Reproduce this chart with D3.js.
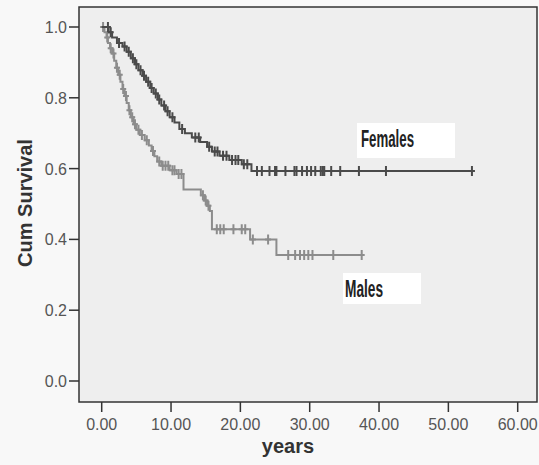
<!DOCTYPE html>
<html>
<head>
	<meta charset="UTF-8">
	<title>Cum Survival</title>
	<script src="https://cdn.jsdelivr.net/npm/d3@7"></script>
	<style>
		body { margin: 0; background: #f8f8f8; }
		svg { display: block; }
		.tick-label { font-family: "Liberation Sans", Arial, sans-serif; font-size: 16px; fill: #555; }
		.axis-title { font-family: "Liberation Sans", Arial, sans-serif; font-size: 20px; font-weight: bold; fill: #333; }
		.group-label { font-family: "Liberation Sans Narrow", "Liberation Sans", Arial, sans-serif; font-size: 23px; font-weight: bold; fill: #222; }
	</style>
</head>
<body>
<script>
// Kaplan-Meier curves
var femaleStepTimes = [1.0, 1.5, 2.2, 3.0, 3.6, 4.2, 4.8, 5.3, 5.9, 6.4, 7.0, 7.5, 8.1, 8.6, 9.2, 9.8, 10.5, 11.2, 12.0, 13.0, 14.2, 15.2, 15.9, 17.0, 18.4, 20.2, 21.6];
var femaleStepSurv  = [0.985, 0.970, 0.955, 0.945, 0.930, 0.912, 0.895, 0.878, 0.862, 0.845, 0.828, 0.812, 0.795, 0.778, 0.762, 0.745, 0.730, 0.712, 0.700, 0.688, 0.675, 0.662, 0.648, 0.636, 0.624, 0.612, 0.593];
var femaleCensor = [0.9, 1.3, 2.5, 3.3, 3.9, 4.5, 5.0, 5.6, 6.1, 6.7, 7.2, 7.8, 8.3, 9.0, 9.5, 10.2, 11.6, 13.5, 14.0, 15.5, 16.3, 16.7, 17.5, 18.0, 18.8, 19.3, 19.7, 20.5, 21.0,
	22.4, 23.1, 24.2, 25.0, 25.2, 26.5, 27.8, 28.1, 28.9, 29.6, 30.2, 30.8, 31.6, 31.9, 32.1, 33.1, 34.4, 37.1, 41.0, 53.4];

var maleStepTimes = [0.4, 0.7, 0.9, 1.2, 1.5, 1.8, 2.1, 2.4, 2.7, 3.0, 3.3, 3.6, 3.9, 4.2, 4.6, 5.0, 5.5, 6.2, 6.8, 7.2, 7.6, 8.0, 8.6, 9.8, 10.8, 11.8, 14.3, 14.8, 15.2, 15.6, 15.9, 21.4, 25.2];
var maleStepSurv  = [0.985, 0.970, 0.955, 0.940, 0.925, 0.905, 0.885, 0.865, 0.845, 0.825, 0.805, 0.785, 0.765, 0.745, 0.725, 0.710, 0.695, 0.680, 0.665, 0.650, 0.635, 0.620, 0.608, 0.595, 0.585, 0.541, 0.525, 0.510, 0.495, 0.480, 0.429, 0.400, 0.356];
var maleCensor = [0.2, 0.8, 1.3, 1.7, 2.2, 2.6, 3.1, 3.5, 4.0, 4.4, 4.8, 5.3, 5.8, 6.5, 7.4, 8.3, 8.8, 9.2, 9.6, 10.2, 10.5, 11.1, 11.5, 14.6, 15.0, 15.4,
	16.6, 17.1, 17.6, 19.0, 20.2, 20.7, 21.8, 24.0, 26.9, 27.9, 28.6, 29.2, 29.8, 30.4, 33.4, 37.5];

var xTicks = [0, 10, 20, 30, 40, 50, 60];
var yTicks = [0, 0.2, 0.4, 0.6, 0.8, 1.0];

var width = 539, height = 465;
var frame = {left: 79, top: 7, right: 537, bottom: 402};

var svg = d3.select("body").append("svg")
	.attr("width", width)
	.attr("height", height);

var x = d3.scaleLinear().domain([0, 60]).range([101.7, 517.7]);
var y = d3.scaleLinear().domain([0, 1]).range([381, 27]);

// plot area
svg.append("rect")
	.attr("x", frame.left)
	.attr("y", frame.top)
	.attr("width", frame.right - frame.left)
	.attr("height", frame.bottom - frame.top)
	.style("fill", "#eeeeee")
	.style("stroke", "#333")
	.style("stroke-width", 1.5);

// y axis ticks
yTicks.forEach(function(v) {
	svg.append("line")
		.attr("x1", frame.left - 10).attr("x2", frame.left)
		.attr("y1", y(v)).attr("y2", y(v))
		.style("stroke", "#333").style("stroke-width", 1.5);
	svg.append("text")
		.classed("tick-label", true)
		.attr("x", frame.left - 12)
		.attr("y", y(v) + 6)
		.attr("text-anchor", "end")
		.text(v.toFixed(1));
});

// x axis ticks
xTicks.forEach(function(v) {
	svg.append("line")
		.attr("x1", x(v)).attr("x2", x(v))
		.attr("y1", frame.bottom).attr("y2", frame.bottom + 10)
		.style("stroke", "#333").style("stroke-width", 1.5);
	svg.append("text")
		.classed("tick-label", true)
		.attr("x", x(v))
		.attr("y", 430)
		.attr("text-anchor", "middle")
		.text(v.toFixed(2));
});

svg.append("text")
	.classed("axis-title", true)
	.attr("x", 288)
	.attr("y", 453)
	.attr("text-anchor", "middle")
	.text("years");

svg.append("text")
	.classed("axis-title", true)
	.attr("transform", "translate(32,203) rotate(-90)")
	.attr("text-anchor", "middle")
	.text("Cum Survival");

function survAt(t, times, surv) {
	var s = 1;
	for (var i = 0; i < times.length; i++) {
		if (times[i] <= t) s = surv[i];
	}
	return s;
}

function drawCurve(times, surv, censor, color) {
	var pts = [[0, 1]];
	for (var i = 0; i < times.length; i++) {
		pts.push([times[i], surv[i]]);
	}
	pts.push([censor[censor.length - 1], surv[surv.length - 1]]);

	var line = d3.line()
		.x(function(d) { return x(d[0]); })
		.y(function(d) { return y(d[1]); })
		.curve(d3.curveStepAfter);

	svg.append("path")
		.datum(pts)
		.attr("d", line)
		.style("fill", "none")
		.style("stroke", color)
		.style("stroke-width", 2);

	// censor marks: small crosses
	var marks = svg.append("g").selectAll(null)
		.data(censor)
		.enter().append("path")
		.attr("d", function(d) {
			var cx = x(d), cy = y(survAt(d, times, surv));
			return "M" + cx + "," + (cy - 5) + "V" + (cy + 5) +
				"M" + (cx - 3) + "," + cy + "H" + (cx + 3);
		})
		.style("fill", "none")
		.style("stroke", color)
		.style("stroke-width", 2);
}

drawCurve(maleStepTimes, maleStepSurv, maleCensor, "#8c8c8c");
drawCurve(femaleStepTimes, femaleStepSurv, femaleCensor, "#4a4a4a");

// group labels
svg.append("rect")
	.attr("x", 357).attr("y", 123).attr("width", 98).attr("height", 35)
	.style("fill", "#ffffff");
svg.append("text")
	.classed("group-label", true)
	.attr("x", 361).attr("y", 147)
	.attr("textLength", 53)
	.attr("lengthAdjust", "spacingAndGlyphs")
	.text("Females");

svg.append("rect")
	.attr("x", 343).attr("y", 273).attr("width", 78).attr("height", 31)
	.style("fill", "#ffffff");
svg.append("text")
	.classed("group-label", true)
	.attr("x", 345).attr("y", 297)
	.attr("textLength", 38)
	.attr("lengthAdjust", "spacingAndGlyphs")
	.text("Males");
</script>
</body>
</html>
